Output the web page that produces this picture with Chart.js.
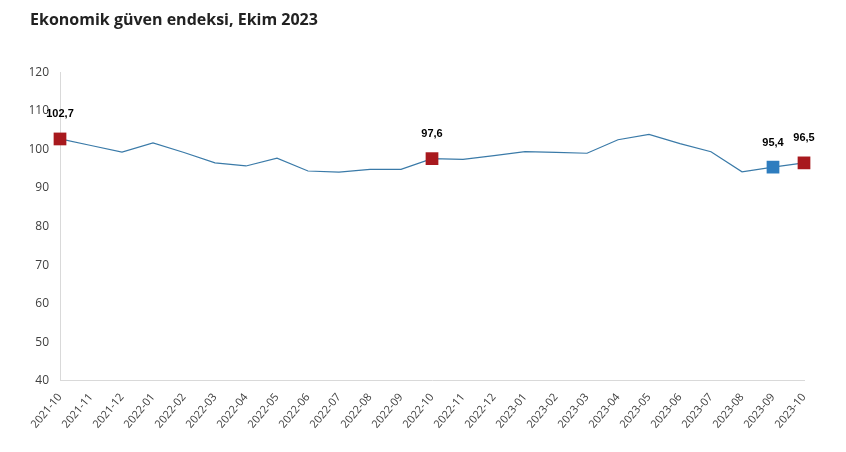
<!DOCTYPE html>
<html>
<head>
<meta charset="utf-8">
<script src="https://cdn.jsdelivr.net/npm/chart.js@4.4.0/dist/chart.umd.min.js"></script>
<style>
  html, body { margin: 0; padding: 0; background: #fff; }
  #kutu { width: 846px; height: 452px; }
</style>
</head>
<body>
<div id="kutu"><canvas id="grafik"></canvas></div>
<script>
// ==================== VERİ ====================
const aylar = [
  '2021-10', '2021-11', '2021-12', '2022-01', '2022-02', '2022-03', '2022-04',
  '2022-05', '2022-06', '2022-07', '2022-08', '2022-09', '2022-10', '2022-11',
  '2022-12', '2023-01', '2023-02', '2023-03', '2023-04', '2023-05', '2023-06',
  '2023-07', '2023-08', '2023-09', '2023-10'
];
const guvenEndeksi = [
  102.7, 101.0, 99.3, 101.7, 99.2, 96.5, 95.7, 97.7, 94.4, 94.1, 94.8, 94.8,
  97.6, 97.4, 98.4, 99.4, 99.2, 99.0, 102.5, 103.9, 101.5, 99.4, 94.2, 95.4, 96.5
];
const yTikleri = [40, 50, 60, 70, 80, 90, 100, 110, 120];
// işaretli noktalar: kırmızı = yıllık karşılaştırma, mavi = önceki ay
const kirmiziNoktalar = [0, 12, 24];
const maviNoktalar = [23];

const KIRMIZI = '#a8191e';
const MAVI = '#2e7dbf';
const CIZGI = '#3a7aa8';

function noktaRengi(i) {
  if (kirmiziNoktalar.includes(i)) return KIRMIZI;
  if (maviNoktalar.includes(i)) return MAVI;
  return CIZGI;
}
function noktaBoyu(i) {
  return (kirmiziNoktalar.includes(i) || maviNoktalar.includes(i)) ? 9 : 0;
}

// etiketleri elle çiziyoruz (datalabels eklentisi yok)
const etiketEklentisi = {
  id: 'etiketler',
  afterDatasetsDraw(chart) {
    const ctx = chart.ctx;
    const meta = chart.getDatasetMeta(0);
    ctx.save();
    ctx.font = 'bold 11px "Liberation Sans", Arial, sans-serif';
    ctx.fillStyle = '#000';
    ctx.textAlign = 'center';
    ctx.textBaseline = 'bottom';
    kirmiziNoktalar.concat(maviNoktalar).forEach(i => {
      const p = meta.data[i];
      const yazi = guvenEndeksi[i].toFixed(1).replace('.', ',');
      ctx.fillText(yazi, p.x, p.y - 19);
    });
    ctx.restore();
  }
};

// ==================== GRAFİK ====================
const ctx = document.getElementById('grafik').getContext('2d');
new Chart(ctx, {
  type: 'line',
  data: {
    labels: aylar,
    datasets: [{
      data: guvenEndeksi,
      borderColor: CIZGI,
      borderWidth: 1.2,
      tension: 0,
      pointStyle: 'rect',
      pointRadius: guvenEndeksi.map((v, i) => noktaBoyu(i)),
      pointHoverRadius: guvenEndeksi.map((v, i) => noktaBoyu(i)),
      pointBackgroundColor: guvenEndeksi.map((v, i) => noktaRengi(i)),
      pointBorderColor: guvenEndeksi.map((v, i) => noktaRengi(i)),
      pointBorderWidth: 0,
      clip: false
    }]
  },
  options: {
    responsive: true,
    maintainAspectRatio: false,
    animation: false,
    layout: { padding: { left: 30, right: 42, top: 0, bottom: 19 } },
    plugins: {
      legend: { display: false },
      tooltip: { enabled: false },
      title: {
        display: true,
        text: 'Ekonomik güven endeksi, Ekim 2023',
        align: 'start',
        color: '#222',
        font: { family: '"Open Sans", sans-serif', size: 16, weight: 'bold' },
        padding: { top: 11, bottom: 42 }
      }
    },
    scales: {
      x: {
        offset: false,
        grid: { display: false },
        border: { display: true, color: '#d9d9d9' },
        ticks: {
          color: '#404040',
          font: { family: '"Open Sans", sans-serif', size: 11 },
          minRotation: 50,
          maxRotation: 50,
          autoSkip: false,
          padding: 2
        }
      },
      y: {
        min: 40,
        max: 120,
        afterBuildTicks(scale) { scale.ticks = yTikleri.map(v => ({ value: v })); },
        afterFit(scale) { scale.width = 30; },
        grid: { display: false },
        border: { display: true, color: '#d9d9d9' },
        ticks: {
          color: '#404040',
          font: { family: '"Open Sans", sans-serif', size: 12 },
          padding: 3
        }
      }
    }
  },
  plugins: [etiketEklentisi]
});
</script>
</body>
</html>
